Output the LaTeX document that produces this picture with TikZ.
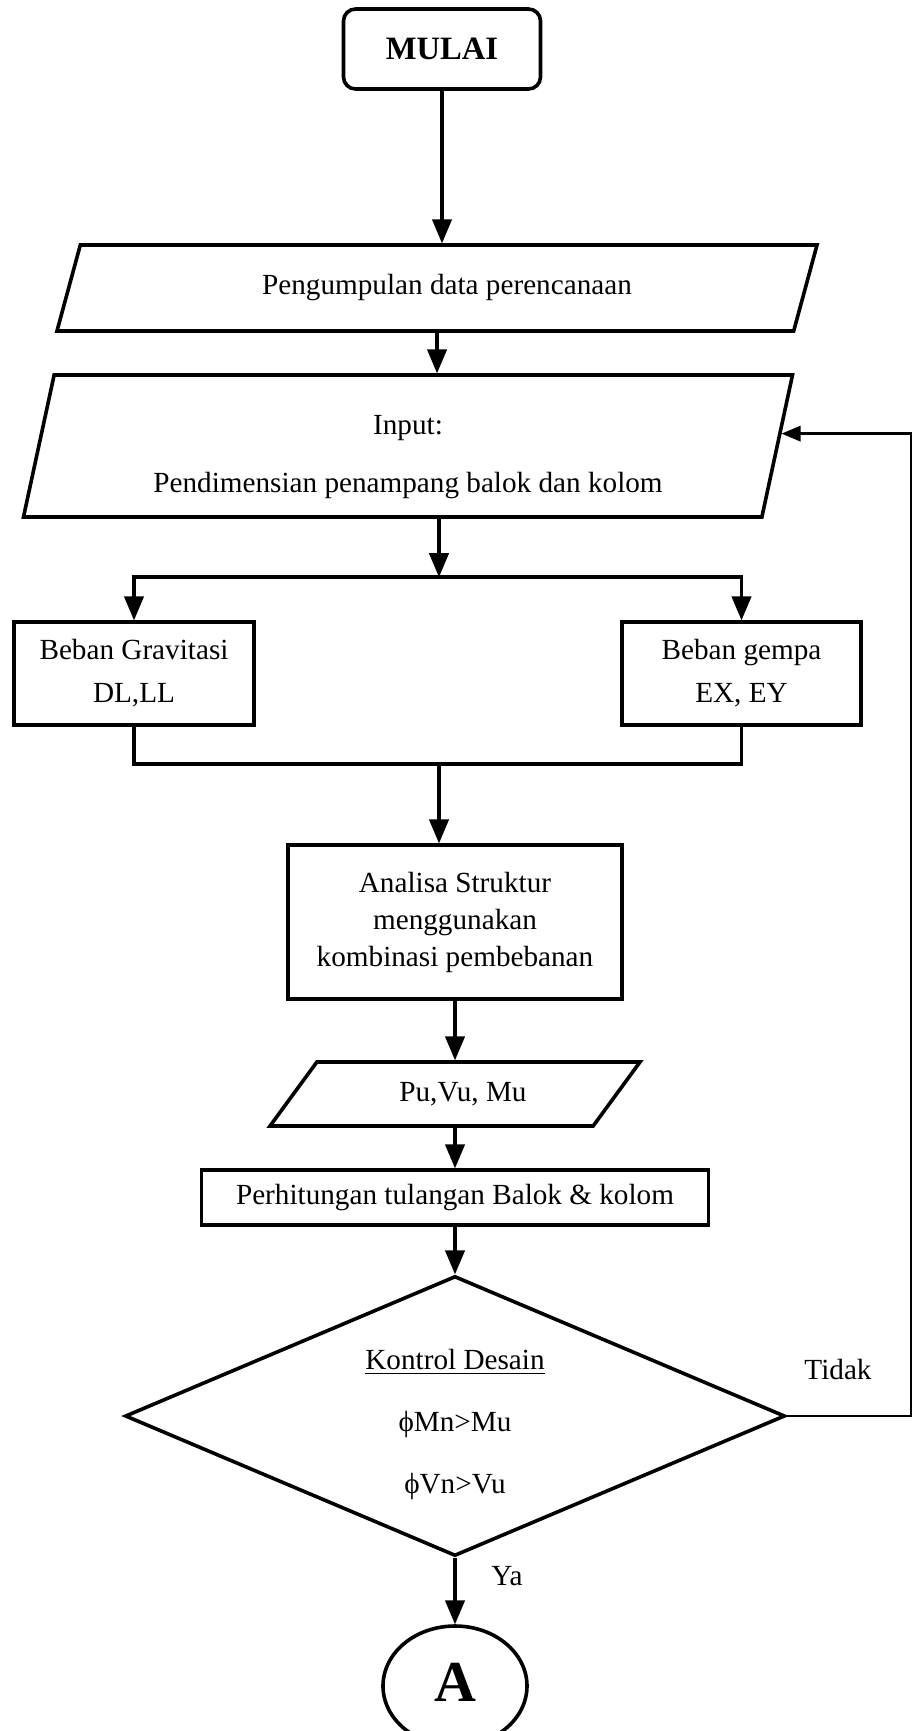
\documentclass[tikz,border=0pt]{standalone}
\usepackage{fontspec}
\setmainfont{Liberation Serif}
\usepackage{tikz}
\usetikzlibrary{shapes,arrows,calc}

\begin{document}
\begin{tikzpicture}[->,>=triangle 45,line width=1.8pt,font=\fontsize{14.6}{17}\selectfont]
\tikzstyle{kotak}=[draw,rectangle,align=center,inner sep=2pt]
\tikzstyle{jajar}=[draw,trapezium,trapezium stretches body,align=center,inner sep=2pt]
\useasboundingbox (0,0) rectangle (456pt,-865.5pt);
\node[kotak,rounded corners=6pt,minimum width=98.5pt,minimum height=40pt,font=\fontsize{16.3}{18}\selectfont\bfseries] (mulai) at (221pt,-24.5pt) {MULAI};
\node[jajar,trapezium left angle=56,trapezium right angle=124,minimum width=380pt,minimum height=43pt] (data) at (218.5pt,-144pt) {\hspace{10pt}Pengumpulan data perencanaan};
\node[jajar,trapezium left angle=75,trapezium right angle=105,minimum width=384.5pt,minimum height=71pt] (input) at (204pt,-223pt) {\rule{0pt}{21pt}Input:\\[12pt] Pendimensian penampang balok dan kolom};
\node[kotak,minimum width=120pt,minimum height=51.5pt] (gravitasi) at (67pt,-336.75pt) {Beban Gravitasi\\[4.5pt] DL,LL};
\node[kotak,minimum width=119.5pt,minimum height=51.5pt] (gempa) at (370.75pt,-336.75pt) {Beban gempa\\[4.5pt] EX, EY};
\node[kotak,minimum width=167pt,minimum height=77pt] (analisa) at (227.5pt,-461pt) {Analisa Struktur\\[1.5pt] menggunakan\\[1.5pt] kombinasi pembebanan};
\node[jajar,trapezium left angle=34,trapezium right angle=146,minimum width=185pt,minimum height=32pt] (pu) at (227.5pt,-547pt) {\hspace{8pt}Pu,Vu, Mu};
\node[kotak,minimum width=253.5pt,minimum height=27.5pt] (hitung) at (227.5pt,-598.75pt) {Perhitungan tulangan Balok \& kolom};
\node[draw,diamond,shape aspect=2.36,align=center,inner sep=0pt,minimum width=330pt,minimum height=140pt] (kontrol) at (227.5pt,-708pt) {\rule{0pt}{19pt}\underline{Kontrol Desain}\\[14pt] ϕMn>Mu\\[14pt] ϕVn>Vu};
\node[draw,ellipse,inner sep=0pt,minimum width=72pt,minimum height=60pt,font=\fontsize{29}{30}\selectfont\bfseries] (A) at (227.5pt,-843pt) {\raisebox{3.5pt}{A}};
\node (tidak) at (419pt,-684.5pt) {Tidak};

% titik bantu
\coordinate (cabang) at (219.5pt,-288.5pt);
\coordinate (gabung) at (219.5pt,-382pt);
\coordinate (kanan) at (455.5pt,-708pt);
\coordinate (balik) at ($(input.top right corner)!0.415!(input.bottom right corner)$);

\draw (mulai.south) -- (mulai.south |- data.north);
\draw (data.south) -- (data.south |- input.north);
\draw (cabang |- input.south) -- (cabang);
\draw (cabang) -| (gravitasi.north);
\draw (cabang) -| (gempa.north);
\draw[-] (gravitasi.south) |- (gabung) -| (gempa.south);
\draw (gabung) -- (gabung |- analisa.north);
\draw (analisa.south) -- (pu.north);
\draw (pu.south) -- (hitung.north);
\draw (hitung.south) -- (kontrol.north);
\draw (kontrol.south) -- node[right=14pt,pos=0.28] (ya) {Ya} (A.north);
\draw[line width=1.2pt] (kontrol.east) -- (kanan) |- (balik);
\end{tikzpicture}
\end{document}
